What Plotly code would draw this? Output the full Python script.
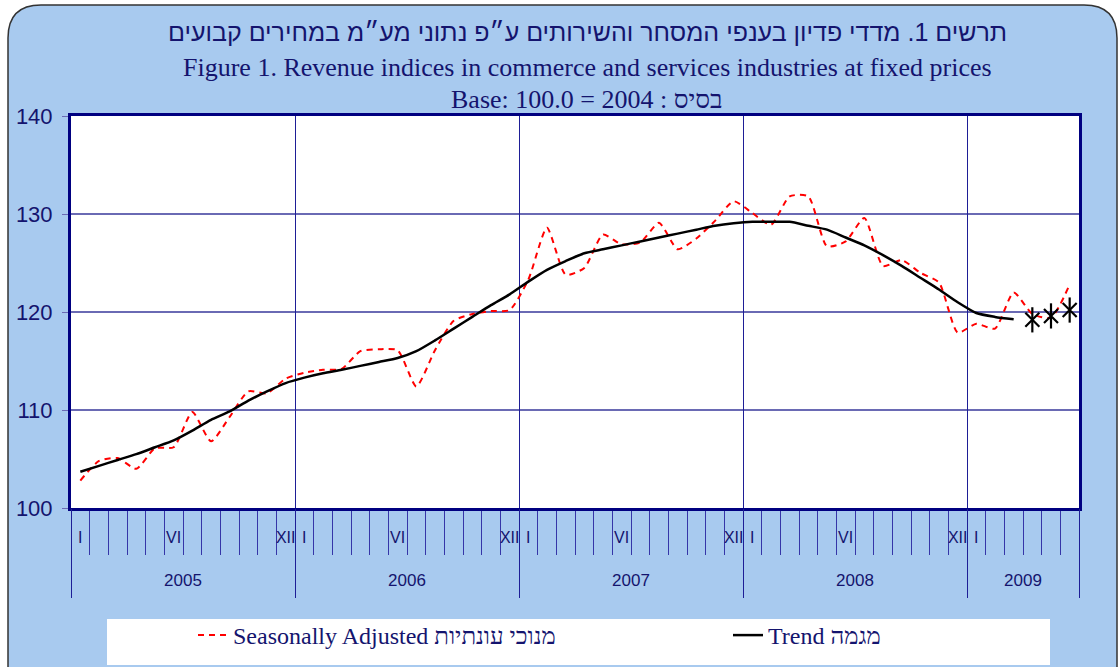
import plotly.graph_objects as go

# ---------------- data ----------------
years = [2005, 2006, 2007, 2008, 2009]
months_per_year = [12, 12, 12, 12, 6]
roman_labels = {1: "I", 6: "VI", 12: "XII"}

period = [f"{y}-{m:02d}" for y, n in zip(years, months_per_year) for m in range(1, n + 1)]

seasonally_adjusted = [
    102.8, 104.8, 105.1, 104.0, 106.1, 106.2, 109.8, 106.8, 109.3, 111.9, 111.7, 113.2,
    113.8, 114.1, 114.2, 116.0, 116.2, 116.1, 112.4, 116.1, 119.1, 119.8, 120.1, 120.2,
    123.3, 128.6, 123.8, 124.5, 127.9, 126.9, 127.1, 129.1, 126.4, 127.5, 129.3, 131.3,
    130.1, 128.9, 131.8, 131.8, 126.7, 127.2, 129.6, 124.7, 125.3, 124.0, 123.0, 117.9,
    118.8, 118.3, 122.0, 119.8, 119.4, 122.8,
]
trend = [
    103.7, 104.3, 104.9, 105.5, 106.2, 106.9, 107.9, 109.0, 109.85, 110.95, 111.9, 112.75,
    113.3, 113.75, 114.1, 114.5, 114.9, 115.3, 116.0, 117.1, 118.3, 119.5, 120.7, 121.8,
    123.1, 124.3, 125.2, 126.0, 126.4, 126.8, 127.2, 127.6, 128.0, 128.4, 128.8, 129.05,
    129.2, 129.2, 129.2, 128.8, 128.4, 127.6, 126.8, 125.8, 124.7, 123.5, 122.3, 121.0,
    119.9, 119.5, 119.25,
]
star_period = ["2009-04", "2009-05", "2009-06"]
star_values = [119.2, 119.6, 120.2]

y_ticks = [100, 110, 120, 130, 140]

# ---------------- helpers ----------------
x_of = {p: i + 1 for i, p in enumerate(period)}
x_all = [x_of[p] for p in period]
n = len(period)

W, H = 1119, 667
ML, MR, MT, MB = 71, 40, 116, 159
PW, PH = W - ML - MR, H - MT - MB


def px(x):
    return (x - ML) / PW


def py(y):
    return (H - MB - y) / PH


TXT = "#14146E"

month_bounds = [i + 0.5 for i in range(n + 1)]
year_bounds = [0.5]
year_centers = []
s = 0
for m in months_per_year:
    year_centers.append(s + m / 2 + 0.5)
    s += m
    year_bounds.append(s + 0.5)

# month labels (the last, partial year shows no label on its final month)
roman_vals, roman_text = [], []
for p in period[:-1]:
    mm = int(p.split("-")[1])
    if mm in roman_labels:
        roman_vals.append(x_of[p])
        roman_text.append(roman_labels[mm])

fig = go.Figure()
fig.add_trace(go.Scatter(
    x=x_all[:len(seasonally_adjusted)], y=seasonally_adjusted, mode="lines",
    name="Seasonally Adjusted מנוכי עונתיות", legendwidth=490,
    line=dict(color="#FF0000", width=2, dash="6px,5px", shape="spline", smoothing=0.6),
))
fig.add_trace(go.Scatter(
    x=x_all[:len(trend)], y=trend, mode="lines", name="Trend מגמה",
    line=dict(color="#000000", width=2.5, shape="spline", smoothing=0.6),
))
star_x = [x_of[p] for p in star_period]
fig.add_trace(go.Scatter(
    x=star_x, y=star_values, mode="markers", showlegend=False,
    marker=dict(symbol="x-thin-open", size=14, color="#000000", line=dict(color="#000000", width=2.2)),
))
fig.add_trace(go.Scatter(
    x=star_x, y=star_values, mode="markers", showlegend=False,
    marker=dict(symbol="line-ns-open", size=18, color="#000000", line=dict(color="#000000", width=2.2)),
))
# empty traces so the overlaid helper axes are drawn
for ax in ["x2", "x3", "x4"]:
    fig.add_trace(go.Scatter(x=[], y=[], xaxis=ax, yaxis="y", showlegend=False, hoverinfo="skip"))

# rounded outer frame
fl, ft, fr, fb, rad = 8, 5, 1117, 700, 33
frame_path = (
    f"M{px(fl)},{py(fb)} L{px(fl)},{py(ft + rad)} "
    f"Q{px(fl)},{py(ft)} {px(fl + rad)},{py(ft)} "
    f"L{px(fr - rad)},{py(ft)} Q{px(fr)},{py(ft)} {px(fr)},{py(ft + rad)} "
    f"L{px(fr)},{py(fb)} Z"
)
shapes = [
    dict(type="path", xref="paper", yref="paper", path=frame_path, layer="below",
         fillcolor="#A8CAEF", line=dict(color="#333333", width=1.5)),
    dict(type="rect", xref="paper", yref="paper", x0=0, x1=1, y0=0, y1=1, layer="below",
         fillcolor="#FFFFFF", line=dict(width=0)),
    dict(type="rect", xref="paper", yref="paper", x0=px(107), x1=px(1050), y0=py(665), y1=py(619),
         layer="below", fillcolor="#FFFFFF", line=dict(width=0)),
]

annotations = [
    dict(text="תרשים 1. מדדי פדיון בענפי המסחר והשירותים ע״פ נתוני מע״מ במחירים קבועים",
         x=px(587), y=py(32), xref="paper", yref="paper", showarrow=False,
         xanchor="center", yanchor="middle",
         font=dict(family="Liberation Sans, Arial", size=25, color=TXT)),
    dict(text="Figure 1. Revenue indices in commerce and services industries at fixed prices",
         x=px(587), y=py(67), xref="paper", yref="paper", showarrow=False,
         xanchor="center", yanchor="middle",
         font=dict(family="Liberation Serif, Times New Roman", size=26, color=TXT)),
    dict(text="Base: 100.0 = 2004 : בסיס",
         x=px(587), y=py(99), xref="paper", yref="paper", showarrow=False,
         xanchor="center", yanchor="middle",
         font=dict(family="Liberation Serif, Times New Roman", size=26, color=TXT)),
]

xr = [0.5, n + 0.5]
fig.update_layout(
    width=W, height=H,
    margin=dict(l=ML, r=MR, t=MT, b=MB, autoexpand=False),
    paper_bgcolor="#FFFFFF", plot_bgcolor="#FFFFFF",
    shapes=shapes, annotations=annotations,
    showlegend=True,
    legend=dict(orientation="h", x=px(193), xanchor="left", y=py(613), yanchor="top",
                bgcolor="rgba(0,0,0,0)",
                font=dict(family="Liberation Serif, Times New Roman", size=24, color=TXT),
                itemwidth=30),
    xaxis=dict(range=xr, tickmode="array", tickvals=month_bounds, ticks="outside", ticklen=44,
               tickcolor="#3535A8", tickwidth=1, showticklabels=False, showgrid=False,
               showline=True, linecolor="#000080", linewidth=3, mirror=True, zeroline=False),
    xaxis2=dict(overlaying="x", anchor="y", side="bottom", range=xr, tickmode="array",
                tickvals=year_bounds, ticks="outside", ticklen=89, tickcolor="#1E1E96", tickwidth=1,
                showticklabels=False, showgrid=True, gridcolor="#1E1E96", gridwidth=1,
                showline=False, zeroline=False),
    xaxis3=dict(overlaying="x", anchor="y", side="bottom", range=xr, tickmode="array",
                tickvals=roman_vals, ticktext=roman_text, ticks="", ticklabelstandoff=18,
                tickfont=dict(family="Liberation Sans, Arial", size=16, color=TXT),
                showgrid=False, showline=False, zeroline=False),
    xaxis4=dict(overlaying="x", anchor="y", side="bottom", range=xr, tickmode="array",
                tickvals=year_centers, ticktext=[str(y) for y in years], ticks="",
                ticklabelstandoff=60,
                tickfont=dict(family="Liberation Sans, Arial", size=17, color=TXT),
                showgrid=False, showline=False, zeroline=False),
    yaxis=dict(range=[100, 140], tickmode="array", tickvals=y_ticks, ticks="outside", ticklen=6,
               tickcolor="#6A6AB4", showgrid=True, gridcolor="#6A6AB4", gridwidth=1.5,
               tickfont=dict(family="Liberation Sans, Arial", size=22, color=TXT),
               ticklabelstandoff=5,
               showline=True, linecolor="#000080", linewidth=3, mirror=True, zeroline=False),
)

fig.write_html("out.html", config={"displayModeBar": False},
               post_script="document.body.style.margin='0px';")
